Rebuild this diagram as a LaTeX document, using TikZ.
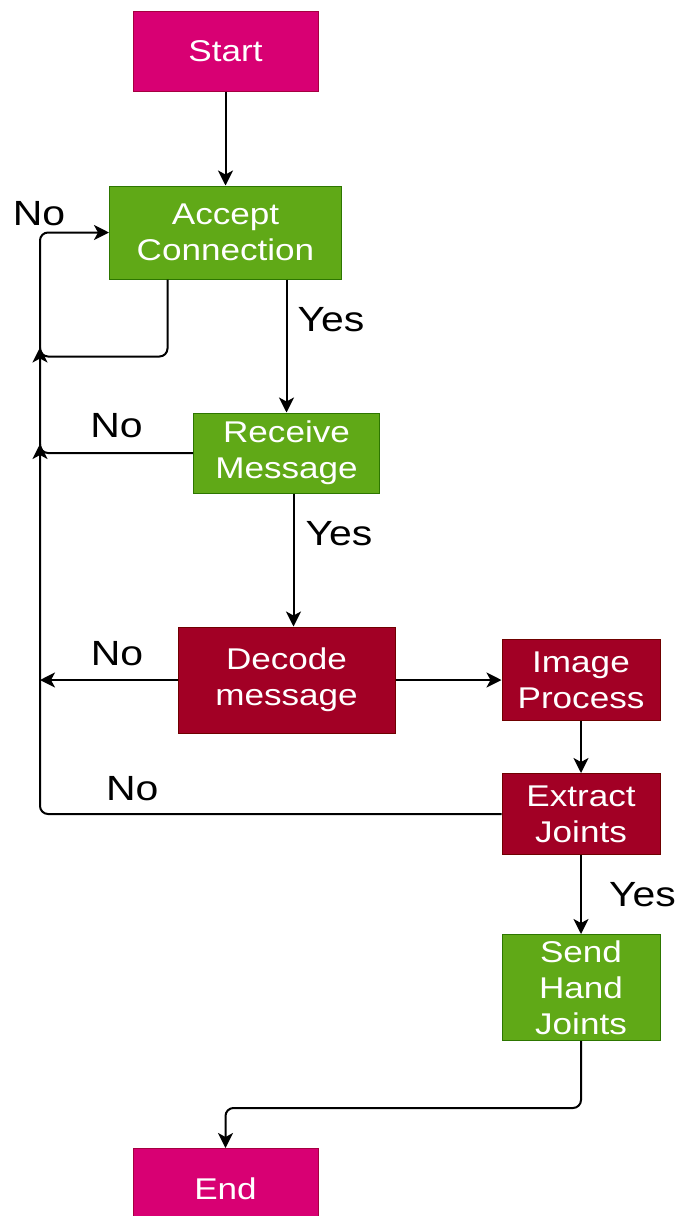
\documentclass[tikz,border=0pt]{standalone}
\usepackage{fontspec}
\setmainfont[FakeStretch=1.17]{Liberation Sans}
\usetikzlibrary{positioning, arrows.meta}

\definecolor{pinkfill}{HTML}{D80073}
\definecolor{pinkline}{HTML}{A50040}
\definecolor{greenfill}{HTML}{60A917}
\definecolor{greenline}{HTML}{2D7600}
\definecolor{redfill}{HTML}{A20025}
\definecolor{redline}{HTML}{6F0000}
\newcommand{\boxfont}{\fontsize{15}{18}\selectfont}
\newcommand{\lblfont}{\fontsize{17.5}{21}\selectfont}

\begin{document}
\begin{tikzpicture}[->,>={Stealth[length=7.5pt,width=7.5pt,inset=2pt]},line width=1pt,
	block/.style={rectangle, draw, line width=0.5pt, text=white, align=center, font=\boxfont, inner sep=1pt},
	pinkbox/.style={block, fill=pinkfill, draw=pinkline},
	greenbox/.style={block, fill=greenfill, draw=greenline},
	redbox/.style={block, fill=redfill, draw=redline},
	lbl/.style={font=\lblfont, inner sep=0pt, text=black}]
		\useasboundingbox (0,0) rectangle (340pt,-608pt);

		\node[pinkbox, minimum width=92.5pt, minimum height=40pt					] (START)		at (112.75pt,-25.5pt) {Start};
		\node[greenbox, minimum width=116pt, minimum height=46.5pt, below=47pt of START		] (ACCEPT_CONN)	{Accept\\Connection};
		\node[greenbox, minimum width=93pt, minimum height=40pt, below=66.5pt of ACCEPT_CONN, xshift=30.5pt] (RECV_MSG) {Receive\\Message};
		\node[redbox, minimum width=108.5pt, minimum height=53pt, below=66.5pt of RECV_MSG	] (DECODE_MSG)	{Decode\\message};
		\node[redbox, minimum width=79pt, minimum height=40.5pt, right=53pt of DECODE_MSG	] (IMG_PROC)	{Image\\Process};
		\node[redbox, minimum width=79pt, minimum height=40.5pt, below=26pt of IMG_PROC		] (EXTR_JOINTS)	{Extract\\Joints};
		\node[greenbox, minimum width=79pt, minimum height=53pt, below=39.5pt of EXTR_JOINTS	] (SEND_JOINTS)	{Send\\Hand\\Joints};
		\node[pinkbox, minimum width=92.5pt, minimum height=40pt, below=53.5pt of SEND_JOINTS, xshift=-177.75pt] (END) {End};

		% left return line
		\coordinate (BUS) at (20pt,0);
		\coordinate (J_ACC) at ([yshift=-38.5pt]ACCEPT_CONN.south);
		\node[lbl] (NO_TOP) at ([xshift=-35pt, yshift=-14pt]ACCEPT_CONN.north west) {No};

		\draw	(START)		--	(ACCEPT_CONN);
		\draw	([xshift=30.5pt]ACCEPT_CONN.south)	--	node[lbl, pos=0.3, right=5pt] (YES_ACC) {Yes}	(RECV_MSG.north);
		\draw	([xshift=3.5pt]RECV_MSG.south)	--	node[lbl, pos=0.3, right=5.5pt] (YES_RCV) {Yes}	([xshift=3.5pt]DECODE_MSG.north);
		\draw	(DECODE_MSG)	--	(IMG_PROC);
		\draw	(IMG_PROC)	--	(EXTR_JOINTS);
		\draw	(EXTR_JOINTS)	--	node[lbl, midway, right=13.5pt] (YES_EXT) {Yes}	(SEND_JOINTS);
		\draw[rounded corners=4pt]	(SEND_JOINTS.south)	|-	([yshift=20pt]END.north)	--	(END.north);

		\draw[-, rounded corners=4pt]	([xshift=-29pt]ACCEPT_CONN.south)	|-	(J_ACC -| BUS)	--	++(0,4.5pt);
		\draw	(J_ACC -| BUS)	--	++(0,4.5pt);
		\draw[-, rounded corners=4pt]	(RECV_MSG.west)	--	node[lbl, pos=0.5, yshift=13.5pt] (NO_RCV) {No}	(RECV_MSG.west -| BUS)	--	++(0,4.5pt);
		\draw	(RECV_MSG.west -| BUS)	--	++(0,4.5pt);
		\draw	(DECODE_MSG.west)	--	node[lbl, pos=0.44, yshift=13pt] (NO_DEC) {No}	(DECODE_MSG.west -| BUS);
		\draw[rounded corners=4pt]	(EXTR_JOINTS.west)	--	node[lbl, pos=0.8, yshift=12.5pt] (NO_EXT) {No}	(EXTR_JOINTS.west -| BUS)
				--	(ACCEPT_CONN.west -| BUS)	--	(ACCEPT_CONN.west);
\end{tikzpicture}
\end{document}
